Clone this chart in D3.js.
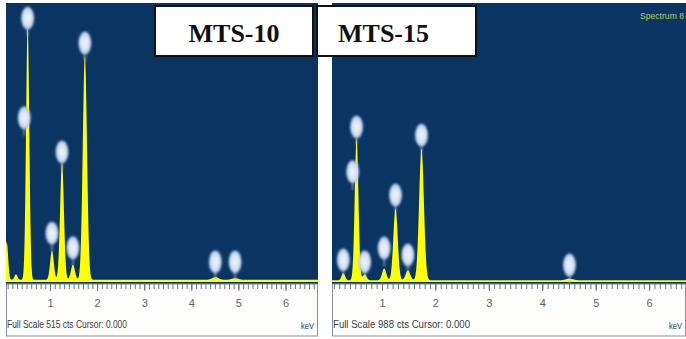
<!DOCTYPE html>
<html><head><meta charset="utf-8">
<script src="https://cdn.jsdelivr.net/npm/d3@7"></script>
<style>
body{margin:0;background:#fff}
svg{display:block}
</style></head><body>
<svg id="chart" width="686" height="339"></svg>
<script>
// Energy axis (keV)
const tickLabels = [1, 2, 3, 4, 5, 6];
const energyDomain = [0.065, 6.69];

// MTS-10 spectrum: peak energies (keV) and peak heights (counts)
const peakEnergies10 = [0.08, 0.277, 0.525, 1.041, 1.254, 1.486, 1.740, 4.51, 4.93];
const peakCounts10   = [70, 10, 470, 54, 216, 28, 413, 5, 3];
const background10 = 4;
// MTS-10 element markers: energy (keV) and marker height (counts)
const labelEnergies10 = [0.452, 0.525, 1.041, 1.254, 1.486, 1.740, 4.51, 4.93];
const labelCounts10   = [303, 487, 90, 240, 63, 441, 37, 37];
const fullScale10 = 515;

// MTS-15 spectrum
const peakEnergies15 = [0.277, 0.525, 0.677, 1.041, 1.254, 1.486, 1.740, 4.51];
const peakCounts15   = [25, 503, 21, 42, 255, 35, 467, 6];
const background15 = 6;
const labelEnergies15 = [0.277, 0.452, 0.525, 0.677, 1.041, 1.254, 1.486, 1.740, 4.51];
const labelCounts15   = [78, 390, 549, 71, 120, 308, 96, 520, 60];
const fullScale15 = 988;

const svg = d3.select("#chart");
const defs = svg.append("defs");

const grad = defs.append("radialGradient").attr("id", "markerFill");
grad.append("stop").attr("offset", "0%").attr("stop-color", "#f2f5fb");
grad.append("stop").attr("offset", "65%").attr("stop-color", "#d6e2f3");
grad.append("stop").attr("offset", "100%").attr("stop-color", "#9fb9df");
defs.append("filter").attr("id", "soft")
  .append("feGaussianBlur").attr("stdDeviation", 0.8);

const plotTop = 3, baseY = 282, axisTop = 284, axisBottom = 336;
const narrowFont = "'Liberation Sans Narrow', 'Liberation Sans', sans-serif";

function drawPanel(cfg) {
  const g = svg.append("g");
  const clipId = "clip" + cfg.id;
  defs.append("clipPath").attr("id", clipId)
    .append("rect").attr("x", cfg.x0).attr("y", 0)
    .attr("width", cfg.x1 - cfg.x0).attr("height", 339);

  const x = d3.scaleLinear().domain(energyDomain).range([cfg.x0, cfg.x1]);
  const y = d3.scaleLinear().domain([0, cfg.fullScale]).range([baseY, plotTop]);

  const body = g.append("g").attr("clip-path", `url(#${clipId})`);

  // plot background
  body.append("rect").attr("x", cfg.x0).attr("y", plotTop)
    .attr("width", cfg.x1 - cfg.x0).attr("height", axisTop - plotTop)
    .attr("fill", "#0a3563");

  // axis strip
  body.append("rect").attr("x", cfg.x0 + 0.5).attr("y", axisTop)
    .attr("width", cfg.x1 - cfg.x0 - 1).attr("height", axisBottom - axisTop)
    .attr("fill", "#fdfdfb").attr("stroke", "#8a8f99").attr("stroke-width", 1);

  // spectrum: sum of detector-broadened peaks on a flat background
  const fwhm = e => 0.07 + 0.02 * e;
  const counts = e => cfg.background + d3.sum(cfg.peakEnergies, (pe, i) => {
    const s = fwhm(pe) / 2.355;
    return cfg.peakCounts[i] * Math.exp(-0.5 * ((e - pe) / s) ** 2);
  });
  const energies = d3.range(energyDomain[0], energyDomain[1], 0.004);
  const area = d3.area()
    .x(e => x(e))
    .y0(baseY)
    .y1(e => y(counts(e)));
  body.append("path").datum(energies).attr("d", area).attr("fill", "#ffff00");

  // element markers
  const markers = body.append("g").attr("filter", "url(#soft)");
  cfg.labelEnergies.forEach((le, i) => {
    const cx = x(le), cy = y(cfg.labelCounts[i]);
    markers.append("line").attr("x1", cx).attr("x2", cx)
      .attr("y1", cy + 10).attr("y2", cy + 18)
      .attr("stroke", "#b9cde6").attr("stroke-width", 1);
    markers.append("ellipse").attr("cx", cx).attr("cy", cy)
      .attr("rx", 6.5).attr("ry", 11.5)
      .attr("fill", "url(#markerFill)");
  });

  // minor ticks every 0.1 keV
  const minor = d3.range(1, 67).map(d => d / 10);
  body.append("g").attr("transform", `translate(0,${axisTop})`)
    .call(d3.axisBottom(x).tickValues(minor).tickSize(5).tickFormat(""))
    .call(a => a.select(".domain").remove())
    .selectAll("line").attr("stroke", "#6f727a");

  // labelled ticks
  body.append("g").attr("transform", `translate(0,${axisTop})`)
    .call(d3.axisBottom(x).tickValues(tickLabels).tickSize(7).tickPadding(8).tickFormat(d3.format("d")))
    .call(a => a.select(".domain").remove())
    .call(a => a.selectAll("line").attr("stroke", "#6d6f76"))
    .call(a => a.selectAll("text").attr("fill", "#62666c")
      .attr("font-family", narrowFont)
      .attr("font-size", 11));

  // status line
  body.append("text").attr("x", cfg.x0 + 1).attr("y", 328)
    .attr("font-family", narrowFont)
    .attr("font-size", 10).attr("fill", "#3a3d44")
    .attr("textLength", cfg.statusWidth).attr("lengthAdjust", "spacingAndGlyphs")
    .text(`Full Scale ${cfg.fullScale} cts Cursor: 0.000`);

  body.append("text").attr("x", cfg.x1 - 4).attr("y", 329)
    .attr("text-anchor", "end")
    .attr("font-family", narrowFont)
    .attr("font-size", 9).attr("fill", "#3a3d44")
    .attr("textLength", 13).attr("lengthAdjust", "spacingAndGlyphs")
    .text("keV");

  if (cfg.title) {
    body.append("text").attr("x", cfg.x1 - 2).attr("y", 19)
      .attr("text-anchor", "end")
      .attr("font-family", narrowFont)
      .attr("font-size", 9).attr("fill", "#b4d45c")
      .attr("textLength", 44).attr("lengthAdjust", "spacingAndGlyphs")
      .text(cfg.title);
  }
}

drawPanel({
  id: 10, x0: 6, x1: 318, fullScale: fullScale10, background: background10,
  peakEnergies: peakEnergies10, peakCounts: peakCounts10,
  labelEnergies: labelEnergies10, labelCounts: labelCounts10,
  statusWidth: 120
});
drawPanel({
  id: 15, x0: 332, x1: 686, fullScale: fullScale15, background: background15,
  peakEnergies: peakEnergies15, peakCounts: peakCounts15,
  labelEnergies: labelEnergies15, labelCounts: labelCounts15,
  statusWidth: 137, title: "Spectrum 8"
});

// sample name boxes
const boxes = [
  {name: "MTS-10", x: 155, w: 158, tx: 234, anchor: "middle"},
  {name: "MTS-15", x: 317, w: 159, tx: 338, anchor: "start"}
];
const bg = svg.append("g");
boxes.forEach(b => {
  bg.append("rect").attr("x", b.x).attr("y", 6).attr("width", b.w).attr("height", 50)
    .attr("fill", "#fff").attr("stroke", "#111").attr("stroke-width", 2);
  bg.append("text").attr("x", b.tx).attr("y", 42).attr("text-anchor", b.anchor)
    .attr("font-family", "'Liberation Serif', 'Times New Roman', serif")
    .attr("font-weight", "bold").attr("font-size", 26).attr("fill", "#111")
    .text(b.name);
});
</script>
</body></html>
